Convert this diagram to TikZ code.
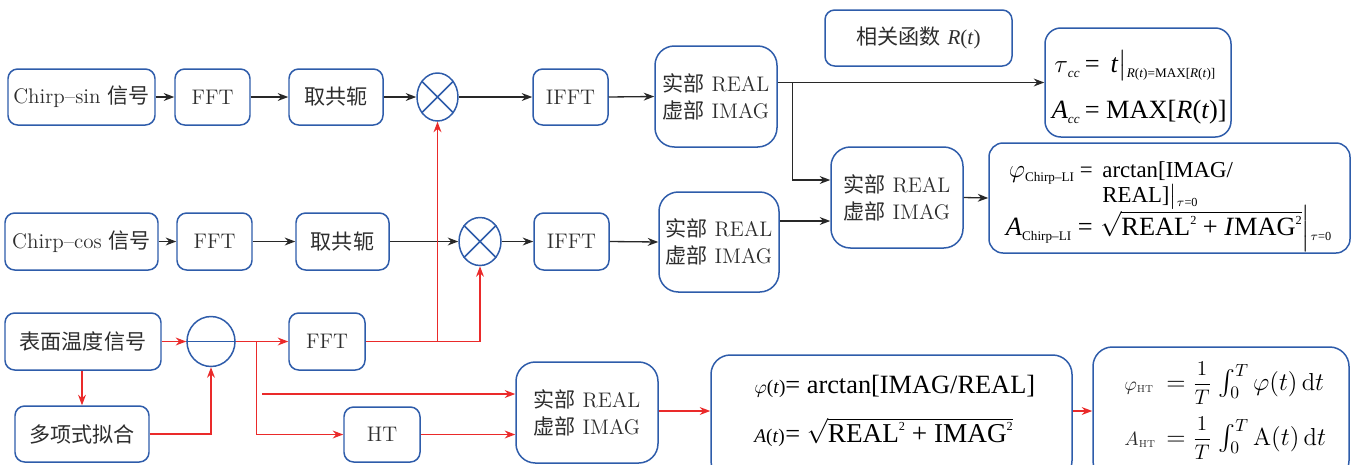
\documentclass[tikz,border=0pt]{standalone}
\usepackage{amsmath}
\usepackage{fontspec}
\newfontfamily\cjk{Noto Sans CJK SC}
\newfontfamily\tms[Ligatures=TeX]{Liberation Serif}
\usetikzlibrary{arrows.meta,shapes.geometric,calc}
\definecolor{edgeblue}{RGB}{46,92,170}
\definecolor{linkred}{RGB}{234,42,42}
\definecolor{linkgray}{RGB}{40,40,40}
\definecolor{inkgray}{RGB}{45,45,45}
\newcommand\ti[1]{\textit{#1}}
% small lowered and raised indices in Times
\newcommand\lowix[1]{\raisebox{-0.45ex}{\tms\fontsize{7.5}{8}\selectfont #1}}
\newcommand\sqix{\raisebox{0.9ex}{\tms\fontsize{7}{8}\selectfont 2}}
% box from its pixel corners: [options]{name}{x1}{y1}{x2}{y2}{text}
\newcommand\flowbox[7][]{%
  \node[box,#1,minimum width={(#5-#3)*0.02cm},minimum height={(#6-#4)*0.02cm}]
    (#2) at ({(#3+#5)/2},{(#4+#6)/2}) {#7};}
\tikzset{
  box/.style={draw=edgeblue, line width=0.85pt, rounded corners=5.5pt, inner sep=0pt,
    align=center, text=inkgray},
  bigbox/.style={rounded corners=11pt, align=left},
  mixer/.style={draw=edgeblue, line width=0.85pt, ellipse, inner sep=0pt},
  arr/.style={draw=linkgray, line width=0.75pt, -{Stealth[length=6pt,width=4.5pt]}},
  rarr/.style={draw=linkred, line width=0.75pt, -{Stealth[length=6pt,width=4.5pt]}},
  formula/.style={inner sep=0pt, text=black, font=\tms\fontsize{13}{15}\selectfont},
  bigformula/.style={formula, font=\tms\fontsize{15}{18}\selectfont},
}
\begin{document}
\begin{tikzpicture}[x=0.02cm, y=-0.02cm, font=\fontsize{12}{15.3}\selectfont]
\useasboundingbox (0,0) rectangle (1353,464);
\clip (0,0) rectangle (1353,464);

% --- sine channel
\flowbox{sin}{8}{69}{155}{125}{Chirp--sin {\cjk 信号}}
\flowbox{fftA}{175}{69}{250}{125}{FFT}
\flowbox{conjA}{289}{69}{383}{125}{\cjk 取共轭}
\node[mixer, minimum width=0.82cm, minimum height=0.96cm] (mulA) at (437.5,97) {};
\flowbox{ifftA}{533}{69}{608}{125}{IFFT}
\flowbox[bigbox]{reA}{655}{46}{777}{147}{{\cjk 实部} REAL\\{\cjk 虚部} IMAG}
\flowbox{corr}{825}{10}{1012}{66}{{\cjk 相关函数} {\tms\ti{R}(\ti{t})}}
\flowbox[rounded corners=9pt]{tau}{1045}{28}{1231}{137}{}

% --- cosine channel
\flowbox{cos}{5}{213}{158}{270}{Chirp--cos {\cjk 信号}}
\flowbox{fftB}{177}{213}{252}{270}{FFT}
\flowbox{conjB}{296}{213}{389}{270}{\cjk 取共轭}
\node[mixer, minimum width=0.84cm, minimum height=0.96cm] (mulB) at (480,241.5) {};
\flowbox{ifftB}{534}{213}{609}{270}{IFFT}
\flowbox[bigbox]{reB}{659}{192}{779}{292}{{\cjk 实部} REAL\\{\cjk 虚部} IMAG}
\flowbox[bigbox]{reC}{831}{147}{963}{248}{{\cjk 实部} REAL\\{\cjk 虚部} IMAG}
\flowbox[rounded corners=8pt]{phase}{989}{143}{1350}{253}{}

% --- temperature channel
\flowbox{temp}{5}{313}{161}{370}{\cjk 表面温度信号}
\node[mixer, minimum width=0.96cm, minimum height=1.0cm] (minus) at (211,341.5) {};
\flowbox{fftC}{289}{313}{365}{370}{FFT}
\flowbox{poly}{15}{406}{149}{462}{\cjk 多项式拟合}
\flowbox{ht}{344}{407}{420}{462}{HT}
\flowbox[bigbox]{reD}{516}{362}{658}{463}{{\cjk 实部} REAL\\{\cjk 虚部} IMAG}
\flowbox[rounded corners=11pt]{polar}{711}{355}{1072}{480}{}
\flowbox[rounded corners=11pt]{mean}{1093}{347}{1349}{480}{}

% mixer and subtractor marks
\draw[draw=edgeblue, line width=0.85pt] (mulA.45) -- (mulA.225) (mulA.135) -- (mulA.315);
\draw[draw=edgeblue, line width=0.85pt] (mulB.45) -- (mulB.225) (mulB.135) -- (mulB.315);
\draw[draw=edgeblue, line width=0.85pt] (minus.west) -- (minus.east);

% --- cross-correlation results
\node[bigformula, anchor=base east] (tauL) at (1080,72) {$\tau$\lowix{\ti{cc}}};
\node[bigformula, anchor=base west] (tauR) at (1080,72)
  {\,= \,\ti{t}$\big|$\lowix{\ti{R}(\ti{t})=MAX[\ti{R}(\ti{t})]}};
\node[bigformula, anchor=base east] (accL) at (1080,118) {\ti{A}\lowix{\ti{cc}}};
\node[bigformula, anchor=base west] (accR) at (1080,118) {\,= MAX[\ti{R}(\ti{t})]};

% --- lock-in phase and amplitude
\node[formula, anchor=base east] (phL) at (1093,177)
  {{\fontsize{15}{18}\selectfont$\varphi$}\lowix{Chirp--LI} =};
\node[formula, anchor=base west] (phR1) at (1102,177) {arctan[IMAG/};
\node[formula, anchor=base west] (phR2) at (1102,202)
  {REAL]$\big|$\lowix{\fontsize{7}{8}\selectfont$\tau$=0}};
\node[bigformula, anchor=base east] (amL) at (1093,235) {\ti{A}\lowix{Chirp--LI} =};
\node[bigformula, anchor=base west] (amR) at (1100,235)
  {$\sqrt{\mbox{\tms\fontsize{15}{18}\selectfont REAL\sqix{} + \ti{I}MAG\sqix}}\Big|$\lowix{\fontsize{7}{8}\selectfont$\tau$=0}};

% --- Hilbert phase and amplitude
\node[formula, anchor=base west, font=\tms\fontsize{11}{13}\selectfont] (ptL) at (754,393)
  {$\varphi$(\ti{t})};
\node[bigformula, anchor=base west] (ptR) at (785,393) {= arctan[IMAG/REAL]};
\node[formula, anchor=base west, font=\tms\fontsize{11}{13}\selectfont] (atL) at (754,442)
  {\ti{A}(\ti{t})};
\node[bigformula, anchor=base west] (atR) at (785,442)
  {= $\sqrt{\mbox{\tms\fontsize{15.5}{18}\selectfont REAL\sqix{} + IMAG\sqix}}$};

% --- averaged values
\node[formula, anchor=base west, text=inkgray, font=\fontsize{11}{13}\selectfont] (hpL) at (1124,390)
  {$\varphi_{\textsc{ht}}$};
\node[formula, anchor=base west, font=\fontsize{14}{16}\selectfont] (hpR) at (1166,390)
  {$=$\;{\fontsize{11.5}{13}\selectfont$\dfrac{1}{T}$}\;$\int_0^T\varphi(t)\,\mathrm{d}t$};
\node[formula, anchor=base west, text=inkgray, font=\fontsize{11}{13}\selectfont] (haL) at (1124,445)
  {$A_{\textsc{ht}}$};
\node[formula, anchor=base west, font=\fontsize{14}{16}\selectfont] (haR) at (1166,445)
  {$=$\;{\fontsize{11.5}{13}\selectfont$\dfrac{1}{T}$}\;$\int_0^T\mathrm{A}(t)\,\mathrm{d}t$};

% --- black signal paths
\draw[arr] (sin.east) -- (fftA.west);
\draw[arr] (fftA.east) -- (conjA.west);
\draw[arr] (conjA.east) -- (mulA.west);
\draw[arr] (mulA.east) -- (ifftA.west);
\draw[arr] (ifftA.east) -- (reA.west);
\draw[arr] (reA.east |- tau.west) -- (tau.west);
\coordinate (tapA) at ($(reA.east |- tau.west)+(15,0)$);
\coordinate (inC1) at ($(reC.west)+(0,-17.5)$);
\draw[arr] (tapA) |- (inC1);

\draw[arr] (cos.east) -- (fftB.west);
\draw[arr] (fftB.east) -- (conjB.west);
\draw[arr] (conjB.east) -- (mulB.west);
\draw[arr] (mulB.east) -- (ifftB.west);
\draw[arr] (ifftB.east) -- (reB.west);
\coordinate (inC2) at ($(reC.west)+(0,23.5)$);
\draw[arr] (reB.east |- inC2) -- (inC2);
\draw[arr] (reC.east) -- (phase.west);

% --- red signal paths
\draw[rarr] (temp.east) -- (minus.west);
\draw[rarr] (minus.east) -- (fftC.west);
\draw[rarr] (poly.north |- temp.south) -- (poly.north);
\draw[rarr] (poly.east) -| (minus.south);
\draw[rarr] (fftC.east) -| (mulB.south);
\draw[rarr] (fftC.east -| mulA.south) -- (mulA.south);
\coordinate (tapB) at ($(minus.east)+(21,0)$);
\draw[rarr] (tapB) |- (ht.west);
\coordinate (freeS) at (262,394);
\draw[rarr] (freeS) -- (reD.west |- freeS);
\draw[rarr] (ht.east) -- (reD.west |- ht.east);
\coordinate (yOut) at (0,411);
\draw[rarr] (reD.east |- yOut) -- (polar.west |- yOut);
\draw[rarr] (polar.east |- yOut) -- (mean.west |- yOut);
\end{tikzpicture}
\end{document}
